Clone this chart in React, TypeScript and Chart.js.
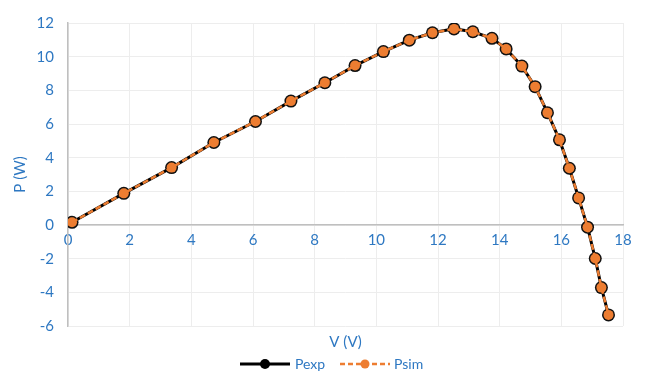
import React, { useEffect, useRef } from "react";
import { Chart, registerables } from "chart.js";

Chart.register(...registerables);

const V = [0.13, 1.81, 3.36, 4.73, 6.08, 7.23, 8.33, 9.31, 10.23, 11.07, 11.82, 12.52, 13.13, 13.75, 14.21, 14.72, 15.15, 15.55, 15.94, 16.26, 16.56, 16.85, 17.1, 17.3, 17.53];
const Pexp = [0.16, 1.88, 3.41, 4.9, 6.15, 7.36, 8.45, 9.47, 10.3, 10.98, 11.42, 11.65, 11.48, 11.09, 10.46, 9.44, 8.22, 6.67, 5.06, 3.37, 1.61, -0.13, -1.99, -3.72, -5.34];
const Psim = [0.16, 1.88, 3.41, 4.9, 6.15, 7.36, 8.45, 9.47, 10.3, 10.98, 11.42, 11.65, 11.48, 11.09, 10.46, 9.44, 8.22, 6.67, 5.06, 3.37, 1.61, -0.13, -1.99, -3.72, -5.34];
const seriesNames = ["Pexp", "Psim"];
const xTitle = "V (V)";
const yTitle = "P (W)";

const BLUE = "#2E78C2";
const ORANGE = "#ED7D31";
const FONT = "Lato, 'Open Sans', sans-serif";

export default function App() {
  const ref = useRef<HTMLCanvasElement>(null);
  useEffect(() => {
    document.body.style.margin = "0";
    const canvas = ref.current!;
    const overlay = {
      id: "overlay",
      afterDraw(chart: any) {
        const ctx = chart.ctx;
        const ca = chart.chartArea;
        ctx.save();
        ctx.fillStyle = BLUE;
        ctx.font = `15px ${FONT}`;
        ctx.textAlign = "center";
        ctx.textBaseline = "middle";
        ctx.fillText(xTitle, (ca.left + ca.right) / 2, 342);
        // legend
        const ly = 364;
        ctx.lineWidth = 3;
        ctx.strokeStyle = "#000";
        ctx.beginPath();
        ctx.moveTo(240, ly);
        ctx.lineTo(290, ly);
        ctx.stroke();
        ctx.fillStyle = "#000";
        ctx.beginPath();
        ctx.arc(265, ly, 5, 0, Math.PI * 2);
        ctx.fill();
        ctx.strokeStyle = ORANGE;
        ctx.lineWidth = 2.5;
        ctx.setLineDash([5, 3]);
        ctx.beginPath();
        ctx.moveTo(340, ly);
        ctx.lineTo(390, ly);
        ctx.stroke();
        ctx.setLineDash([]);
        ctx.fillStyle = ORANGE;
        ctx.beginPath();
        ctx.arc(365, ly, 4.5, 0, Math.PI * 2);
        ctx.fill();
        ctx.fillStyle = BLUE;
        ctx.font = `14px ${FONT}`;
        ctx.textAlign = "left";
        ctx.fillText(seriesNames[0], 295, ly);
        ctx.fillText(seriesNames[1], 394, ly);
        ctx.restore();
      },
    };
    const chart = new Chart(canvas, {
      type: "line",
      data: {
        datasets: [
          {
            label: seriesNames[0],
            data: V.map((v, i) => ({ x: v, y: Pexp[i] })),
            borderColor: "#000",
            backgroundColor: "#000",
            borderWidth: 3,
            pointRadius: 6.5,
            pointBorderWidth: 0,
            pointBackgroundColor: "#111",
            tension: 0,
            order: 2,
          },
          {
            label: seriesNames[1],
            data: V.map((v, i) => ({ x: v, y: Psim[i] })),
            borderColor: ORANGE,
            backgroundColor: ORANGE,
            borderWidth: 2.5,
            borderDash: [6, 3],
            pointRadius: 5,
            pointBorderWidth: 0,
            pointBackgroundColor: ORANGE,
            tension: 0,
            order: 1,
          },
        ],
      },
      options: {
        animation: false,
        responsive: false,
        layout: { padding: { left: 0, right: 25, top: 13, bottom: 45 } },
        plugins: {
          legend: { display: false },
          title: { display: false },
          tooltip: { enabled: false },
        },
        scales: {
          x: {
            type: "linear",
            min: 0,
            max: 18,
            position: { y: 0 } as any,
            ticks: { stepSize: 2, color: BLUE, font: { family: FONT, size: 15 }, padding: 6, maxRotation: 0 },
            grid: { color: "#EDEDED", lineWidth: 1, drawTicks: false },
            border: { color: "#BFBFBF", width: 1.5 },
          },
          y: {
            type: "linear",
            min: -6,
            max: 12,
            ticks: { stepSize: 2, color: BLUE, font: { family: FONT, size: 15 }, padding: 14 },
            grid: { color: "#EDEDED", lineWidth: 1, drawTicks: false },
            border: { color: "#BFBFBF", width: 1.5 },
            title: { display: true, text: yTitle, color: BLUE, font: { family: FONT, size: 15 }, padding: { top: 11, bottom: 0 } },
            afterFit: (s: any) => { s.width = 68; },
          },
        },
      },
      plugins: [overlay],
    });
    return () => chart.destroy();
  }, []);
  return <canvas ref={ref} width={648} height={371} style={{ display: "block" }} />;
}
